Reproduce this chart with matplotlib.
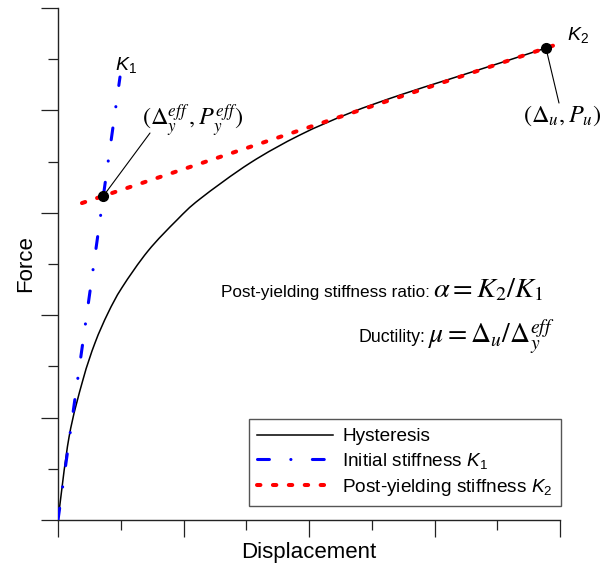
import matplotlib
matplotlib.use("Agg")
import matplotlib.pyplot as plt
from matplotlib.path import Path
from matplotlib.patches import PathPatch
from matplotlib.lines import Line2D
import numpy as np

plt.rcParams['font.family'] = ['Liberation Sans', 'DejaVu Sans']
plt.rcParams['mathtext.fontset'] = 'custom'
plt.rcParams['mathtext.rm'] = 'Liberation Sans'
plt.rcParams['mathtext.it'] = 'Liberation Sans:italic'
plt.rcParams['mathtext.bf'] = 'Liberation Sans:bold'

# Hysteresis (backbone) curve
hyst_x = [0.0, 0.088, 0.199, 0.295, 0.398, 0.510, 0.717, 0.948, 1.131,
          1.530, 1.928, 2.327, 2.725, 3.124, 3.522, 3.888]
hyst_y = [0.0, 0.81, 1.37, 1.73, 2.02, 2.27, 2.627, 2.93, 3.135,
          3.486, 3.76, 3.975, 4.15, 4.307, 4.463, 4.609]

# Initial stiffness line K1
k1_x = [0.0, 0.494]
k1_y = [0.0, 4.326]

# Post-yielding stiffness line K2
k2_x = [0.191, 3.976]
k2_y = [3.095, 4.645]

# Key points
yield_pt = (0.359, 3.160)
ult_pt = (3.888, 4.609)

fig = plt.figure(figsize=(6.02, 5.67), dpi=100)
ax = fig.add_axes([58/602, 1-520/567, (560-58)/602, (520-8)/567])

# smooth curve through the read points (Catmull-Rom rendered as Bezier path)
P = np.column_stack([hyst_x, hyst_y])
sc = np.array([125.5, 102.4])
Q = P * sc
verts = [tuple(P[0])]
codes = [Path.MOVETO]
n = len(Q)
for i in range(n - 1):
    p0 = Q[max(i - 1, 0)]
    p1 = Q[i]
    p2 = Q[i + 1]
    p3 = Q[min(i + 2, n - 1)]
    c1 = p1 + (p2 - p0) / 6.0
    c2 = p2 - (p3 - p1) / 6.0
    for c in (c1, c2, p2):
        verts.append(tuple(c / sc))
        codes.append(Path.CURVE4)
ax.add_patch(PathPatch(Path(verts, codes), facecolor='none', edgecolor='black',
                       lw=1.1, zorder=3))

h_line = Line2D([], [], color='black', lw=1.1)
l_k1, = ax.plot(k1_x, k1_y, color='#0000ff', lw=2.2, dash_capstyle='round',
                linestyle=(0, (3.9, 7.0, 0.05, 7.0)), zorder=4)
l_k2, = ax.plot(k2_x, k2_y, color='#ff0000', lw=2.9, dash_capstyle='round',
                linestyle=(0, (0.85, 3.1)), zorder=4)

ax.plot([yield_pt[0]], [yield_pt[1]], 'o', color='black', ms=7, zorder=6, clip_on=False)
ax.plot([ult_pt[0]], [ult_pt[1]], 'o', color='black', ms=7, zorder=6, clip_on=False)

ax.set_xlim(0, 4)
ax.set_ylim(0, 5)
ax.spines['top'].set_visible(False)
ax.spines['right'].set_visible(False)
for s in ('left', 'bottom'):
    ax.spines[s].set_linewidth(1.0)
    ax.spines[s].set_color('#222222')

ax.set_xticks(np.arange(0, 4.01, 1.0))
ax.set_xticks(np.arange(0.5, 4, 1.0), minor=True)
ax.set_yticks(np.arange(0, 5.01, 1.0))
ax.set_yticks(np.arange(0.5, 5, 1.0), minor=True)
ax.set_xticklabels([])
ax.set_yticklabels([])
ax.tick_params(axis='both', which='major', length=12, width=0.9, direction='out', color='#222222')
ax.tick_params(axis='both', which='minor', length=7, width=0.9, direction='out', color='#222222')

ax.set_xlabel('Displacement', fontsize=16, labelpad=0)
ax.set_ylabel('Force', fontsize=16, labelpad=0)

# Labels K1, K2
ax.text(0.542, 4.44, '$K_1$', fontsize=14, ha='center', va='center')
ax.text(4.143, 4.74, '$K_2$', fontsize=14, ha='center', va='center')

# Annotations
ax.text(1.07, 3.91, r'$(\Delta_y^{eff}\,, P_y^{eff})$', fontsize=17.5, ha='center',
        va='center', math_fontfamily='stix')
ax.annotate('', xy=yield_pt, xytext=(0.733, 3.779),
            arrowprops=dict(arrowstyle='-', color='black', lw=0.8, shrinkA=0, shrinkB=4))
ax.text(4.02, 3.95, r'$(\Delta_u, P_u)$', fontsize=17.5, ha='center', va='center',
        math_fontfamily='stix')
ax.annotate('', xy=ult_pt, xytext=(3.992, 4.072),
            arrowprops=dict(arrowstyle='-', color='black', lw=0.8, shrinkA=0, shrinkB=4))

# Formulas
fig.text(430/602, 1-297/567, 'Post-yielding stiffness ratio:', fontsize=12.3, ha='right', va='baseline')
fig.text(433/602, 1-297/567, r'$\alpha = K_2/K_1$', fontsize=20.5, ha='left', va='baseline',
         math_fontfamily='stix')
fig.text(425/602, 1-342/567, 'Ductility:', fontsize=12.8, ha='right', va='baseline')
fig.text(428/602, 1-342/567, r'$\mu = \Delta_u/\Delta_y^{eff}$', fontsize=20, ha='left', va='baseline',
         math_fontfamily='stix')

leg = ax.legend([h_line, l_k1, l_k2],
                ['Hysteresis', 'Initial stiffness $K_1$', 'Post-yielding stiffness $K_2$'],
                loc='lower right', bbox_to_anchor=(1.002, 0.027), borderaxespad=0,
                fontsize=13.7, handlelength=4.0, handletextpad=0.45, labelspacing=0.3,
                fancybox=False, framealpha=1, edgecolor='#555555', borderpad=0.45)
leg.get_frame().set_linewidth(1.0)

fig.savefig('out.png', dpi=100)
